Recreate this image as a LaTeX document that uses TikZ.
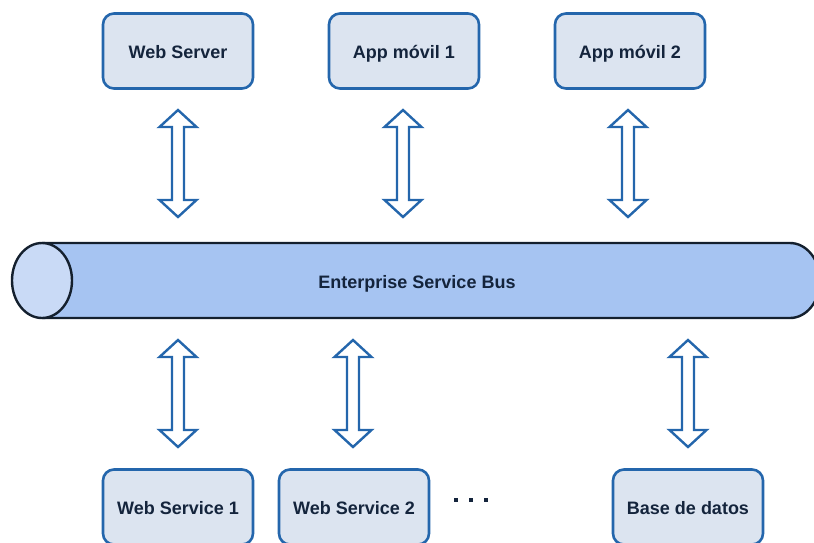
\documentclass[tikz,border=0pt]{standalone}
\usepackage{fontspec}
\setmainfont{Liberation Sans}
\usetikzlibrary{calc}
\definecolor{boxfill}{HTML}{DCE4F0}
\definecolor{boxline}{HTML}{2466AC}
\definecolor{inktext}{HTML}{14243C}
\definecolor{busfill}{HTML}{A6C4F2}
\definecolor{capfill}{HTML}{C9DAF6}
\definecolor{busline}{HTML}{14202E}
\tikzset{
  labelfont/.style={font=\fontsize{18}{20}\selectfont\bfseries, text=inktext,
    text height=17pt, text depth=3pt},
  svcbox/.style={draw=boxline, fill=boxfill, line width=2.6pt, rounded corners=11pt,
    minimum width=150pt, minimum height=75pt, inner sep=0pt, labelfont},
  hollowarrow/.style={draw=boxline, fill=white, line width=2.4pt, line join=miter},
  busedge/.style={draw=busline, line width=2.4pt},
}
% vertical double-headed hollow arrow: #1 = top tip, #2 = bottom tip
\newcommand{\twoway}[2]{%
  \path[hollowarrow] (#1) -- ++(18.5,17) -- ++(-12.5,0) -- ($(#2)+(6,-17)$)
    -- ++(12.5,0) -- (#2) -- ++(-18.5,-17) -- ++(12.5,0) -- ($(#1)+(-6,17)$)
    -- ++(-12.5,0) -- cycle;}
\begin{document}
\begin{tikzpicture}[x=1pt, y=-1pt]
\useasboundingbox (0,0) rectangle (814,542);

% service bus cylinder: body with rounded right end, then the flat left cap
\path[busedge, fill=busfill] (42,243) -- (790,243)
  .. controls (806.6,243) and (820,259.8) .. (820,280.5)
  .. controls (820,301.2) and (806.6,318) .. (790,318) -- (42,318);
\draw[busedge, fill=capfill] (42,280.5) ellipse[x radius=30, y radius=37.5];
\node[labelfont] (esb) at (417,281) {Enterprise Service Bus};

% top row
\node[svcbox] (ws)  at (178,51) {Web Server};
\node[svcbox] (am1) at (404,51) {App móvil 1};
\node[svcbox] (am2) at (630,51) {App móvil 2};

% bottom row
\node[svcbox] (s1) at (178,507) {Web Service 1};
\node[svcbox] (s2) at (354,507) {Web Service 2};
\node[svcbox] (db) at (688,507) {Base de datos};

% arrow end points
\coordinate (t1a) at (178,110); \coordinate (t1b) at (178,217);
\coordinate (t2a) at (403,110); \coordinate (t2b) at (403,217);
\coordinate (t3a) at (628,110); \coordinate (t3b) at (628,217);
\coordinate (b1a) at (178,340); \coordinate (b1b) at (178,447);
\coordinate (b2a) at (353,340); \coordinate (b2b) at (353,447);
\coordinate (b3a) at (688,340); \coordinate (b3b) at (688,447);

\twoway{t1a}{t1b}
\twoway{t2a}{t2b}
\twoway{t3a}{t3b}
\twoway{b1a}{b1b}
\twoway{b2a}{b2b}
\twoway{b3a}{b3b}

% ellipsis between the lower services
\foreach \dx in {456,471,486}
  \fill[inktext] (\dx-2,498) rectangle (\dx+2,502);
\end{tikzpicture}
\end{document}
